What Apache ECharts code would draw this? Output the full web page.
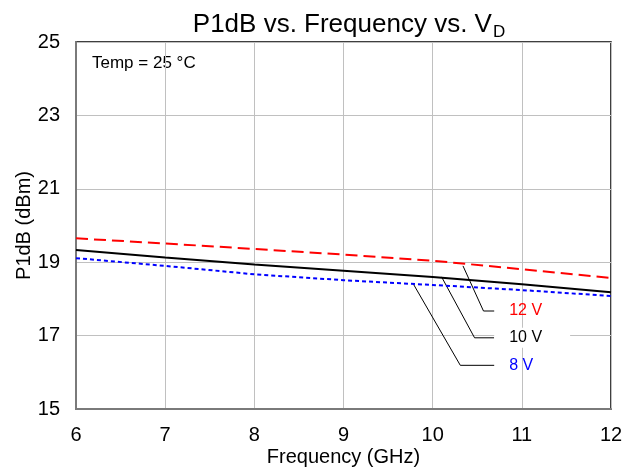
<!DOCTYPE html>
<html>
<head>
<meta charset="utf-8">
<script src="https://cdn.jsdelivr.net/npm/echarts@6/dist/echarts.min.js"></script>
<style>
  html, body { margin: 0; padding: 0; background: #fff; }
  #chart { width: 623px; height: 469px; }
</style>
</head>
<body>
<div id="chart"></div>
<script>
// frequency points (GHz)
var freq = [6, 7, 8, 9, 10, 11, 12];
// P1dB (dBm) per drain voltage
var p12v = [19.65, 19.51, 19.36, 19.21, 19.04, 18.81, 18.57];
var p10v = [19.33, 19.13, 18.94, 18.77, 18.60, 18.40, 18.18];
var p8v = [19.11, 18.90, 18.67, 18.51, 18.38, 18.24, 18.08];

// callout leaders: point on curve -> elbow -> end of label line
var lead12 = [[10.34, 18.90], [10.57, 17.67], [10.69, 17.67]];
var lead10 = [[10.10, 18.60], [10.47, 16.94], [10.69, 16.94]];
var lead8 = [[9.78, 18.42], [10.31, 16.19], [10.69, 16.19]];

var font = 'Liberation Sans, Arial, sans-serif';

function pairs(xs, ys) {
  return xs.map(function (x, i) { return [x, ys[i]]; });
}

function leader(name, pts, color, bg) {
  return {
    name: name,
    type: 'line',
    data: pts,
    symbol: 'none',
    silent: true,
    z: 1,
    lineStyle: { color: '#000', width: 1 },
    endLabel: {
      show: true,
      formatter: name,
      color: color,
      fontFamily: font,
      fontSize: 16,
      distance: 0,
      backgroundColor: bg,
      padding: [2, 28, 2, 15]
    }
  };
}

var chart = echarts.init(document.getElementById('chart'));

var option = {
  animation: false,
  backgroundColor: '#fff',
  title: {
    text: '{a|P1dB vs. Frequency vs. V}{s|D}',
    left: 344,
    top: 3,
    textAlign: 'center',
    textStyle: {
      rich: {
        a: { fontFamily: font, fontSize: 26, fontWeight: 'normal', color: '#000' },
        s: { fontFamily: font, fontSize: 17, fontWeight: 'normal', color: '#000', verticalAlign: 'bottom', padding: [16, 0, 0, 1] }
      }
    }
  },
  graphic: [{
    type: 'text',
    left: 92,
    top: 55,
    style: { text: 'Temp = 25 °C', font: '17px ' + font, fill: '#000' }
  }],
  grid: {
    left: 76, right: 12, top: 42, bottom: 60,
    outerBoundsMode: 'none',
    show: true, borderColor: '#000', borderWidth: 1.5
  },
  xAxis: {
    type: 'value',
    min: 6, max: 12, interval: 1,
    name: 'Frequency (GHz)',
    nameLocation: 'middle',
    nameGap: 38,
    nameMoveOverlap: false,
    nameTextStyle: { fontFamily: font, fontSize: 20, color: '#000' },
    axisLine: { show: true, lineStyle: { color: '#7a7a7a', width: 2 } },
    axisTick: { show: false },
    axisLabel: { fontFamily: font, fontSize: 20, color: '#000', margin: 16 },
    splitLine: { lineStyle: { color: '#c0c0c0', width: 1 } }
  },
  yAxis: {
    type: 'value',
    min: 15, max: 25, interval: 2,
    name: 'P1dB (dBm)',
    nameLocation: 'middle',
    nameGap: 42,
    nameMoveOverlap: false,
    nameTextStyle: { fontFamily: font, fontSize: 20, color: '#000' },
    axisLine: { show: true, lineStyle: { color: '#7a7a7a', width: 2 } },
    axisTick: { show: false },
    axisLabel: { fontFamily: font, fontSize: 20, color: '#000', margin: 16 },
    splitLine: { lineStyle: { color: '#c0c0c0', width: 1 } }
  },
  series: [
    leader('12 V', lead12, '#ff0000', 'transparent'),
    leader('10 V', lead10, '#000', '#fff'),
    leader('8 V', lead8, '#0000ff', 'transparent'),
    {
      name: '12 V curve', type: 'line', data: pairs(freq, p12v), symbol: 'none', z: 3,
      lineStyle: { color: '#ff0000', width: 2, type: [12, 6] }
    },
    {
      name: '10 V curve', type: 'line', data: pairs(freq, p10v), symbol: 'none', z: 3,
      lineStyle: { color: '#000', width: 2 }
    },
    {
      name: '8 V curve', type: 'line', data: pairs(freq, p8v), symbol: 'none', z: 3,
      lineStyle: { color: '#0000ff', width: 2, type: [4, 3] }
    }
  ]
};

chart.setOption(option);
</script>
</body>
</html>
